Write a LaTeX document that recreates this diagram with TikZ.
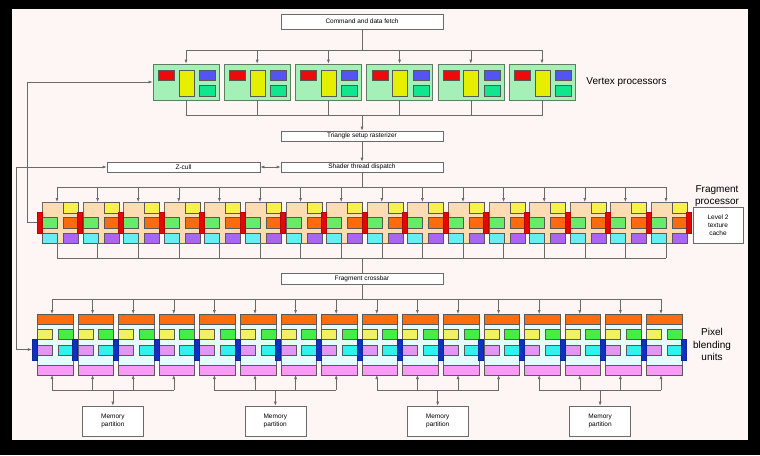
\documentclass[tikz,border=0pt]{standalone}
\usepackage{fontspec}
\setmainfont{Liberation Sans}
\usetikzlibrary{arrows.meta,positioning}

\definecolor{bgpink}{HTML}{FDF6F4}
\definecolor{linegray}{HTML}{6A6A6A}
\definecolor{vpgreen}{HTML}{A4F0B6}
\definecolor{vpedge}{HTML}{5E7E64}
\definecolor{vpred}{HTML}{EE0A0A}
\definecolor{vpyellow}{HTML}{E4F000}
\definecolor{vpblue}{HTML}{5454F2}
\definecolor{vpmint}{HTML}{10E68E}
\definecolor{fpbeige}{HTML}{FDDCB2}
\definecolor{fpyellow}{HTML}{F6F24A}
\definecolor{fpgreen}{HTML}{66EC66}
\definecolor{fporange}{HTML}{FF6A0A}
\definecolor{fpcyan}{HTML}{66EEF4}
\definecolor{fppurple}{HTML}{A866F2}
\definecolor{fpred}{HTML}{E00808}
\definecolor{pbbody}{HTML}{E4FCFC}
\definecolor{pborange}{HTML}{FF6C0A}
\definecolor{pbyellow}{HTML}{F2F260}
\definecolor{pbgreen}{HTML}{44EE44}
\definecolor{pbviolet}{HTML}{E494F2}
\definecolor{pbcyan}{HTML}{33F0F0}
\definecolor{pbpink}{HTML}{F99AF7}
\definecolor{pbblue}{HTML}{1030C0}

\tikzset{
  blk/.style={draw=linegray, line width=0.6pt, inner sep=0pt, anchor=north west},
  cell/.style={blk, draw=black!65},
  unitbox/.style={draw=linegray, fill=white, line width=0.6pt, inner sep=0pt,
    font=\fontsize{6.5}{7.8}\selectfont, align=center},
  sidetext/.style={font=\fontsize{10}{12.3}\selectfont, align=center},
  wire/.style={draw=linegray, line width=0.6pt},
  arr/.style={wire, -{Latex[length=4pt,width=3pt]}},
  arrboth/.style={wire, {Latex[length=4pt,width=3pt]}-{Latex[length=4pt,width=3pt]}},
}

\begin{document}
\begin{tikzpicture}[x=1pt,y=-1pt]

        % frame
        \fill[black] (0,0) rectangle (760,455);
        \fill[bgpink] (12,9) rectangle (748,440);

        \def\vpitch{71.2}
        \def\fpitch{40.6}

        \node[unitbox, minimum width=162pt, minimum height=15pt] (cmd) at (362,21.5) {Command and data fetch};
        \node[unitbox, minimum width=162pt, minimum height=10pt] (tri) at (362,136) {Triangle setup rasterizer};
        \node[unitbox, minimum width=162pt, minimum height=10pt] (shd) at (362,167) {Shader thread dispatch};
        \node[unitbox, minimum width=153pt, minimum height=10pt] (zc) at (183.5,167) {Z-cull};
        \node[unitbox, minimum width=162pt, minimum height=11pt] (xbar) at (362,278.5) {Fragment crossbar};
        \node[unitbox, minimum width=50pt, minimum height=36pt] (ltc) at (718,225) {Level 2\\texture\\cache};

        \coordinate (vtop) at (362,50);
        \coordinate (vbot) at (362,115.5);
        \coordinate (ftop) at (362,187);
        \coordinate (fbot) at (362,258);
        \coordinate (ptop) at (362,299);
        \coordinate (pbot) at (0,390);

        % vertex processors
        \foreach \i in {0,...,5}{
          \pgfmathsetmacro{\cx}{186+\vpitch*\i}
          \node[blk, draw=vpedge, fill=vpgreen, minimum width=66pt, minimum height=36pt, anchor=center] (vp\i) at (\cx,82) {};
          \node[cell, fill=vpred, minimum width=16pt, minimum height=10pt] (vp\i-r) at (\cx-28,70) {};
          \node[cell, fill=vpyellow, minimum width=15pt, minimum height=26pt] (vp\i-y) at (\cx-7.5,70) {};
          \node[cell, fill=vpblue, minimum width=16pt, minimum height=10pt] (vp\i-b) at (\cx+13,70) {};
          \node[cell, fill=vpmint, minimum width=16pt, minimum height=11pt] (vp\i-m) at (\cx+13,85) {};
          \draw[arr] (vp\i.north |- vtop) -- (vp\i.north);
          \draw[wire] (vp\i.south) -- (vp\i.south |- vbot);
        }
        \draw[wire] (vp0.north |- vtop) -- (vp5.north |- vtop);
        \draw[wire] (vp0.south |- vbot) -- (vp5.south |- vbot);
        \draw[wire] (cmd) -- (vtop);
        \draw[arr] (vbot) -- (tri);
        \draw[arr] (tri) -- (shd);
        \draw[wire] (shd) -- (ftop);

        % fragment processor
        \foreach \i in {0,...,15}{
          \pgfmathsetmacro{\fx}{42+\fpitch*\i}
          \node[blk, fill=fpbeige, minimum width=36pt, minimum height=41pt] (fp\i) at (\fx,202) {};
          \node[cell, fill=fpyellow, minimum width=15pt, minimum height=11pt] (fp\i-y) at (\fx+21,202) {};
          \node[cell, fill=fpgreen, minimum width=15pt, minimum height=11pt] (fp\i-g) at (\fx,217) {};
          \node[cell, fill=fporange, minimum width=15pt, minimum height=11pt] (fp\i-o) at (\fx+21,217) {};
          \node[cell, fill=fpcyan, minimum width=15pt, minimum height=10.5pt] (fp\i-c) at (\fx,232.5) {};
          \node[cell, fill=fppurple, minimum width=15pt, minimum height=10.5pt] (fp\i-p) at (\fx+21,232.5) {};
          \coordinate (fin\i) at (\fx+15,202);
          \coordinate (fout\i) at (\fx+15,243);
          \draw[arr] (fin\i |- ftop) -- (fin\i);
          \draw[wire] (fout\i) -- (fout\i |- fbot);
        }
        \foreach \k in {0,...,16}{
          \node[blk, draw=fpred!80!black, fill=fpred, line width=0.4pt, minimum width=5pt, minimum height=21pt, anchor=center] (rb\k) at (39.5+\fpitch*\k,222.5) {};
        }
        \draw[wire] (fin0 |- ftop) -- (fin15 |- ftop);
        \draw[wire] (fout0 |- fbot) -- (fout15 |- fbot);
        \draw[wire] (fbot) -- (xbar);
        \draw[wire] (xbar) -- (ptop);

        % pixel blending units
        \foreach \i in {0,...,15}{
          \pgfmathsetmacro{\px}{37+\fpitch*\i}
          \node[blk, fill=pbbody, minimum width=35.5pt, minimum height=61pt] (pb\i) at (\px,314) {};
          \node[cell, fill=pborange, minimum width=35.5pt, minimum height=10pt] (pb\i-o) at (\px,314) {};
          \node[cell, fill=pbyellow, minimum width=15pt, minimum height=10pt] (pb\i-y) at (\px,329) {};
          \node[cell, fill=pbgreen, minimum width=15pt, minimum height=10pt] (pb\i-g) at (\px+20.5,329) {};
          \node[cell, fill=pbviolet, minimum width=15pt, minimum height=10pt] (pb\i-v) at (\px,345) {};
          \node[cell, fill=pbcyan, minimum width=15pt, minimum height=10pt] (pb\i-c) at (\px+20.5,345) {};
          \node[cell, fill=pbpink, minimum width=35.5pt, minimum height=10pt] (pb\i-p) at (\px,365) {};
          \coordinate (pin\i) at (\px+15,314);
          \coordinate (pout\i) at (\px+15,375);
          \draw[arr] (pin\i |- ptop) -- (pin\i);
          \draw[arr] (pout\i |- pbot) -- (pout\i);
        }
        \foreach \k in {0,...,16}{
          \node[blk, draw=pbblue!80!black, fill=pbblue, line width=0.4pt, minimum width=5pt, minimum height=21pt, anchor=center] (bb\k) at (34.5+\fpitch*\k,349.5) {};
        }
        \draw[wire] (pin0 |- ptop) -- (pin15 |- ptop);

        % memory partitions
        \foreach \g/\a/\b in {0/0/3,1/4/7,2/8/11,3/12/15}{
          \node[unitbox, minimum width=61pt, minimum height=30pt] (mp\g) at (112.9+162.4*\g,421) {Memory\\partition};
          \draw[wire] (pout\a |- pbot) -- (pout\b |- pbot);
          \draw[arr] (mp\g.north |- pbot) -- (mp\g.north);
        }

        % feedback paths
        \draw[arr] (rb0.west) -- ++(-10,0) |- (vp0.west);
        \draw[arrboth] (zc.west) -- ++(-90,0) |- (bb0.west);
        \draw[arrboth] (zc) -- (shd);

        \node[sidetext] (vplabel) at (626.5,82) {Vertex processors};
        \node[sidetext] (fplabel) at (717,196) {Fragment\\processor};
        \node[sidetext] (pblabel) at (712,344.5) {Pixel\\blending\\units};

    \end{tikzpicture}
\end{document}
